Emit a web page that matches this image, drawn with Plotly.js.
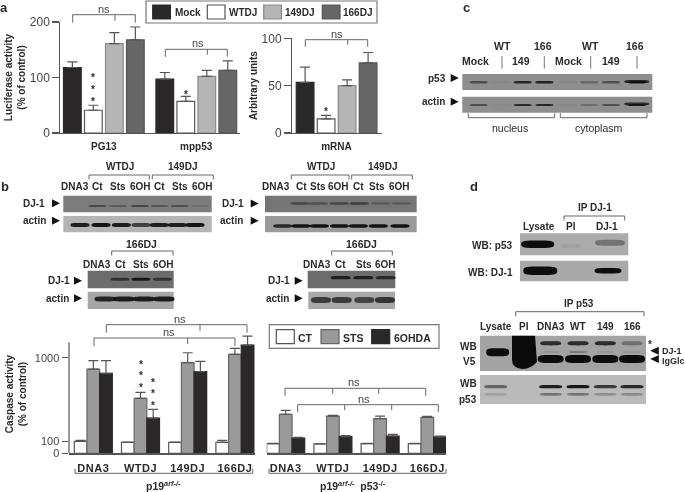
<!DOCTYPE html>
<html><head><meta charset="utf-8">
<script src="https://cdn.plot.ly/plotly-3.0.1.min.js"></script>
<style>html,body{margin:0;padding:0;background:#fff}#g{width:685px;height:492px}</style>
</head><body><div id="g"></div>
<script>
// ---------- Panel a: bar data (value, upward error) ----------
const categoriesLuc = ['PG13','mpp53'];
const lucMock = [118,97],  lucMockErr = [10,12];
const lucWT   = [41,57],   lucWTErr   = [9,9];
const luc149  = [161,102], luc149Err  = [20,11];
const luc166  = [168,113], luc166Err  = [23,17];
const categoriesMrna = ['mRNA'];
const mrnaMock = [53.5], mrnaMockErr = [16];
const mrnaWT   = [15],   mrnaWTErr   = [3.7];
const mrna149  = [50],   mrna149Err  = [6];
const mrna166  = [74],   mrna166Err  = [11];
// ---------- Panel b: caspase data, read on the drawn scale of the axis ----------
const categoriesCasp = ['DNA3','WTDJ','149DJ','166DJ'];
const caspCT  = [125,115,115,115], caspCTErr  = [11,3,2,21];
const caspSTS = [881,575,948,1035],caspSTSErr = [88,63,104,63];
const casp6OH = [836,369,854,1132],casp6OHErr = [133,91,108,94];
const nullCT  = [101,98,101,101],  nullCTErr  = [3,2,4,3];
const nullSTS = [408,390,362,376], nullSTSErr = [41,7,28,11];
const null6OH = [160,174,181,171], null6OHErr = [7,11,18,10];
const caspTickText = ['0','100','1000'];
// ---------- Blot band strengths ----------
const cP53   = [.5,.03,.8,.85,.06,.28,.48,.88];
const cActin = [.5,.03,.78,.82,.06,.26,.48,.85];
const b1DJ   = [.45,.3,.5,.35,.4,.1];
const b1Act  = [.9,.95,.9,.7,.9,.9,.95];
const b2DJ   = [.45,.35,.45,.55,.25,.25];
const b2Act  = [.8,.95,.95,.95,.95,.95,.95];
const b3DJ   = [.6,.9,.6];
const b3Act  = [.85,.9,.9,.9];
const b4DJ   = [.8,.8,.7];
const b4Act  = [.7,.7,.65,.75];
const dP53   = [1,.06,.35];
const dDJ    = [1,.0,1];
const v5Up   = [.8,.8,.8,.35];
const v5Low  = [1,1,1,1];
const v5Mid  = [.12,.35,.1,.1];
const wbUp   = [.5,.9,.95,.75,.85];
const wbLow  = [.15,.4,.4,.25,.28];

const W=685,H=492;
const FONT='"Liberation Sans", Arial, sans-serif', INK='#2a2a2a', AX='#555';
const C={black:'#2b2829',white:'#ffffff',light:'#b5b5b5',dark:'#666666',mid:'#9a9a9a'};
const data=[],layout={width:W,height:H,margin:{l:0,r:0,t:0,b:0},autosize:false,showlegend:false,
  barmode:'overlay',paper_bgcolor:'#fff',plot_bgcolor:'rgba(0,0,0,0)',font:{family:FONT,color:INK},shapes:[],annotations:[]};
const px=x=>x/W, py=y=>1-y/H;

function panel(id,cats,series,g){
  const unit=(g.center2-g.center1);
  series.forEach((s,i)=>data.push({type:'bar',name:s.name,x:cats,y:s.y,xaxis:'x'+id,yaxis:'y'+id,
    width:g.barW/unit,offset:(g.firstOff+i*g.step)/unit,cliponaxis:false,
    marker:{color:s.color,line:{color:s.edge,width:1.2}},
    error_y:{type:'data',symmetric:false,array:s.err,arrayminus:s.err.map(()=>0),color:AX,thickness:1.2,width:5}}));
  const lo=(g.left-g.center1)/unit, hi=(g.right-g.center1)/unit;
  layout['xaxis'+id]={type:'category',domain:[px(g.left),px(g.right)],range:[lo,hi],anchor:'y'+id,
    showline:true,linecolor:AX,linewidth:1.2,ticks:'',showgrid:false,zeroline:false,fixedrange:true,
    ticklabelstandoff:g.standoff,tickfont:{size:g.labelSize,weight:'bold',color:INK}};
  const y={domain:[py(g.base),py(g.top)],range:[0,g.ymax],anchor:'x'+id,showgrid:false,zeroline:false,fixedrange:true};
  if(g.hideY){y.visible=false}else{Object.assign(y,{showline:!g.ownLine,linecolor:AX,linewidth:1.2,ticks:'outside',ticklen:6.5,tickwidth:1.2,tickcolor:AX,
    tickvals:g.tickvals,ticktext:g.ticktext,tickfont:{size:g.tickSize||12,color:'#444'},
    title:{text:g.title,font:{size:10,weight:'bold',color:INK},standoff:g.standoffT}});}
  layout['yaxis'+id]=y;
}
const S=(name,y,err,color,edge)=>({name,y,err,color,edge});
const aGeo={center1:103.75,center2:196.2,barW:17.7,firstOff:-40.25,step:21,standoff:4,labelSize:10};
panel('',categoriesLuc,[S('Mock',lucMock,lucMockErr,C.black,C.black),S('WTDJ',lucWT,lucWTErr,C.white,AX),S('149DJ',luc149,luc149Err,C.light,'#8a8a8a'),S('166DJ',luc166,luc166Err,C.dark,'#555')],
  {...aGeo,left:60,right:240,base:133,top:22,ymax:200,tickvals:[0,100,200],ticktext:['0','100','200'],title:'Luciferase activity<br>(% of control)',standoffT:2});
panel('2',categoriesMrna,[S('Mock',mrnaMock,mrnaMockErr,C.black,C.black),S('WTDJ',mrnaWT,mrnaWTErr,C.white,AX),S('149DJ',mrna149,mrna149Err,C.light,'#8a8a8a'),S('166DJ',mrna166,mrna166Err,C.dark,'#555')],
  {center1:336.5,center2:428.95,barW:17.7,firstOff:-40.25,step:21,standoff:4,labelSize:10,left:291.7,right:382,base:133,top:38.3,ymax:100,tickvals:[0,50,100],ticktext:['0','50','100'],title:'Arbitrary units',standoffT:2});
const cGeo={barW:12.67,firstOff:-19,step:12.67,standoff:4,labelSize:11};
// the y range runs a little above the visible axis so the top error bar is not cut off
panel('3',categoriesCasp,[S('CT',caspCT,caspCTErr,C.white,AX),S('STS',caspSTS,caspSTSErr,C.mid,'#666'),S('6OHDA',casp6OH,casp6OHErr,C.black,C.black)],
  {...cGeo,center1:93.3,center2:140.5,left:69,right:255,base:453.3,top:334.8,ymax:1240,tickvals:[0,125,1000],ticktext:caspTickText,tickSize:11,ownLine:true,title:'Caspase activity<br>(% of control)',standoffT:6});
panel('4',categoriesCasp,[S('CT',nullCT,nullCTErr,C.white,AX),S('STS',nullSTS,nullSTSErr,C.mid,'#666'),S('6OHDA',null6OH,null6OHErr,C.black,C.black)],
  {...cGeo,center1:285.7,center2:332.9,left:266.7,right:446,base:453.3,top:334.8,ymax:1240,hideY:true});

// ---------- drawing helpers (page pixels -> paper) ----------
const shape=o=>layout.shapes.push(Object.assign({xref:'paper',yref:'paper',layer:'above'},o));
function rect(x0,y0,x1,y1,fill,edge,lw){shape({type:'rect',x0:px(x0),x1:px(x1),y0:py(y1),y1:py(y0),fillcolor:fill,line:{color:edge||fill,width:edge?(lw||1.2):0}});}
function seg(x0,y0,x1,y1,c,lw){shape({type:'line',x0:px(x0),x1:px(x1),y0:py(y0),y1:py(y1),line:{color:c||'#666',width:lw||1}});}
function tri(x,y,w,h,dir){const a=dir>0?x:x+w,b=dir>0?x+w:x;
  shape({type:'path',path:`M ${px(a)} ${py(y-h/2)} L ${px(b)} ${py(y)} L ${px(a)} ${py(y+h/2)} Z`,fillcolor:'#111',line:{width:0}});}
function band(cx,cy,w,t,o){const l=px(cx-w/2),r=px(cx+w/2),m=px(cx),e=w*0.12/W;
  const u=py(cy-t/2),d=py(cy+t/2),c=py(cy);
  shape({type:'path',path:`M ${l} ${c} C ${l} ${u} ${l+e} ${u} ${m} ${u} C ${r-e} ${u} ${r} ${u} ${r} ${c} C ${r} ${d} ${r-e} ${d} ${m} ${d} C ${l+e} ${d} ${l} ${d} ${l} ${c} Z`,
    fillcolor:'#0d0d0d',opacity:o,line:{width:0}});}
function bands(lanes,cy,w,t,vals){lanes.forEach((x,i)=>{if(vals[i]>0)band(x,cy,w,t,vals[i]);});}
function txt(t,x,y,o){o=o||{};layout.annotations.push({text:t,x:px(x),y:py(y),xref:'paper',yref:'paper',showarrow:false,
  xanchor:o.a||'center',yanchor:'middle',textangle:o.rot||0,borderpad:0,
  font:{family:FONT,size:o.s||10,weight:o.n?'normal':'bold',color:o.c||INK}});}
function ns(x,y,x0,x1,mids,drop){
  seg(x0,y,x1,y);seg(x0,y,x0,y+drop);seg(x1,y,x1,y+drop);mids.forEach(m=>seg(m,y,m,y+drop-2));
  txt('ns',x,y-6,{n:1,s:11,c:'#444'});}
function bracketDown(x0,x1,y){seg(x0,y,x1,y);seg(x0,y,x0,y+4.5);seg(x1,y,x1,y+4.5);}
function bracketUp(x0,x1,y){seg(x0,y,x1,y);seg(x0,y,x0,y-4.5);seg(x1,y,x1,y-4.5);}
function stars(x,ys){ys.forEach(y=>txt('*',x,y+1.5,{s:10}));}
function tag(t,cx,ax,y){txt(t,cx,y);tri(ax,y,8,8,1);}

seg(69,342.3,69,453.3,AX,1.2);

txt('a',4,8,{s:13});txt('b',5,186,{s:13});txt('c',466,8,{s:13});txt('d',474,186,{s:13});

// ---------- panel a annotations ----------
rect(146,1,377,23,'#fff','#777',1.2);
[[152.7,C.black,C.black,'Mock',174],[207.3,C.white,'#555','WTDJ',228.3],[263.7,C.light,'#8a8a8a','149DJ',284],[322.3,C.dark,'#555','166DJ',342.3]]
 .forEach(l=>{rect(l[0],5,l[0]+17.7,19,l[1],l[2]);txt(l[3],l[4],12,{a:'left',s:10});});
ns(104,14.7,72.7,135.3,[115],8); ns(198,49.3,165.3,227.3,[207.3],7.5); ns(337.3,39.7,305.3,367.7,[347.7],7);
stars(92.7,[76,88,100]);stars(185.7,[92.7]);stars(326,[110.3]);

// ---------- panel c ----------
[['WT',502.3],['166',543],['WT',590],['166',635.3]].forEach(l=>txt(l[0],l[1],46,{s:10.5}));
[['Mock',475.7],['149',521],['Mock',568.3],['149',611]].forEach(l=>txt(l[0],l[1],61.3,{s:10.5}));
[502,544.3,590.7,637].forEach(x=>seg(x,56,x,68.7,'#777'));
const cLanes=[116,185,248,313,385,448,513,590].map(v=>440+v/3);
rect(462.3,74,652.3,90,'#8e8e8e');rect(462.3,96.7,652.3,112.7,'#8e8e8e');
bands(cLanes,82.3,18,2.6,cP53);bands(cLanes,105,18,2.2,cActin);
band(cLanes[7],81.5,25,3.2,.8);band(cLanes[7],104,25,2.8,.75);
tag('p53',436.7,450.7,78);tag('actin',433,450.7,101.7);
bracketUp(468.3,554.7,117.7);bracketUp(560.3,647,117.7);
txt('nucleus',509.7,128,{n:1,s:10.5});txt('cytoplasm',599.3,128,{n:1,s:10.5});

// ---------- panel b blots ----------
const Z=(v,o)=>o+v/3;
txt('WTDJ',120,167);txt('149DJ',182.3,167);bracketDown(89,149.3,175);bracketDown(152.3,213.3,175);
[['DNA3',75],['Ct',97.3],['Sts',118],['6OH',140.7],['Ct',159.3],['Sts',179.7],['6OH',202]].forEach(l=>txt(l[0],l[1],186.7));
rect(63.3,195.7,211.7,212.3,'#7c7c7c');rect(63.3,216,211.7,232.3,'#b4b4b4');
bands([292,354,420,479,539,600].map(v=>Z(v,0)),206,18,2.2,b1DJ);
bands([240,303,364,423,478,532,585].map(v=>Z(v,0)),225,19,4,b1Act);
tag('DJ-1',34.3,52,203.3);tag('actin',34,52,220.7);

txt('WTDJ',320.7,167);txt('149DJ',382.7,167);bracketDown(291.3,349,175);bracketDown(351.7,412.3,175);
[['DNA3',276.3],['Ct',301],['Sts',318],['6OH',338.7],['Ct',358.3],['Sts',377.3],['6OH',400]].forEach(l=>txt(l[0],l[1],186.7));
rect(265,195.7,416.7,212.3,'#757575');rect(265,216,416.7,232.3,'#9a9a9a');
bands([240,295,358,418,482,543].map(v=>Z(v,220)),203.5,19,2.4,b2DJ);
bands([188,243,298,358,415,475,540].map(v=>Z(v,220)),226,19,3.6,b2Act);
tag('DJ-1',233.3,250.7,203.6);tag('actin',231.7,250.7,220.7);

txt('166DJ',141.3,244,{s:10.5});bracketDown(111.7,173,251);
[['DNA3',97.3],['Ct',120],['Sts',141],['6OH',163.7]].forEach(l=>txt(l[0],l[1],264));
rect(87.7,270.7,173.7,288.3,'#6c6c6c');rect(87.7,291.7,173.7,309,'#a6a6a6');
bands([360,423,487].map(v=>Z(v,0)),279.3,19,3,b3DJ);
bands([315,372,432,492].map(v=>Z(v,0)),299,21,5,b3Act);
tag('DJ-1',59,74,280.7);tag('actin',57,74,298.3);

txt('166DJ',361.3,244,{s:10.5});bracketDown(331.7,392.3,251);
[['DNA3',317],['Ct',340.7],['Sts',363.7],['6OH',385.7]].forEach(l=>txt(l[0],l[1],264));
rect(307.7,270.7,395.3,288.3,'#6c6c6c');rect(308.3,291.7,395,309,'#a8a8a8');
bands([362,430,497].map(v=>Z(v,220)),277.7,20,3.2,b4DJ);
bands([303,365,433,495].map(v=>Z(v,220)),300,20,6,b4Act);
tag('DJ-1',279,294.7,280.7);tag('actin',277.3,294.7,298.3);

// ---------- panel b caspase annotations ----------
ns(180.3,324.7,106.3,247,[200],8); ns(169.3,338,94,235,[187.7],8);
stars(141,[362.7,374.3,386.3]);stars(153,[380.7,392.3,404.3]);
bracketUp(75,252.7,473.3);txt('p19<sup><i>arf-/-</i></sup>',163,485.5,{s:10.5});
rect(269.3,324.7,439,348.3,'#fff','#777',1.2);
[[276.3,C.white,'#555','CT',296.7],[321,C.mid,'#666','STS',341.7],[371.7,C.black,C.black,'6OHDA',392.7]]
 .forEach(l=>{rect(l[0],329.7,l[0]+18,343.7,l[1],l[2]);txt(l[3],l[4],338,{a:'left',s:10.5});});
ns(354.3,388.3,285,425.7,[332.7,378.7],7.5); ns(364.3,404.7,297.7,438.3,[344.7,391.7],7.5);
bracketUp(269,446,473.3);txt('p19<sup><i>arf-/-</i></sup>  p53<sup>-/-</sup>',353,485.5,{s:10.5});

// ---------- panel d ----------
txt('IP DJ-1',594.7,207.3);bracketDown(564,624.7,216);
[['Lysate',538.7],['PI',571.3],['DJ-1',607.3]].forEach(l=>txt(l[0],l[1],226));
rect(520,233.3,628.3,255.3,'#ababab');rect(520,260.7,628.3,281.3,'#a9a9a9');
const dL=[537.7,571,610];
band(dL[0],244.3,33,7.5,dP53[0]);band(dL[1],246,20,4,dP53[1]);band(dL[2],242.7,30,6,dP53[2]);
band(540.3,270.7,34,8.5,dDJ[0]);band(608,270.7,27,5.5,dDJ[2]);
txt('WB: p53',492.3,245.3);txt('WB: DJ-1',490,272.3);

txt('IP p53',579,303.7);bracketDown(515.7,644,311.7);
[['Lysate',495.7],['PI',523.7],['DNA3',550.7],['WT',578],['149',605.3],['166',632]].forEach(l=>txt(l[0],l[1],326));
rect(480,335.7,646,371,'#a3a3a3');rect(480,375,646,404,'#bababa');
const vL=[257,339,421,501].map(v=>Z(v,465));
bands(vL,343.3,21,4.2,v5Up);bands(vL,352,18,1.6,v5Mid);bands(vL,359,26,8,v5Low);
band(497.7,352.3,23,8,1);
shape({type:'path',path:`M ${px(512)} ${py(335.7)} L ${px(535)} ${py(335.7)} L ${px(537)} ${py(362)} Q ${px(530)} ${py(369.5)} ${px(522)} ${py(369)} Q ${px(512)} ${py(368)} ${px(512)} ${py(360)} Z`,fillcolor:'#0b0b0b',line:{width:0}});
const wL=[92,257,339,421,501].map(v=>Z(v,465));
bands(wL,386.7,23,3.2,wbUp);bands(wL,394.3,22,2.8,wbLow);
txt('WB',468,346.7);txt('V5',469,361.7);txt('WB',468,383.3);txt('p53',468,399.3);
txt('*',650,344,{s:10});
tri(650.3,350.7,8.5,8,-1);tri(650.3,359,8.5,8,-1);
txt('DJ-1',660.5,350.7,{a:'left',s:9});txt('IgGlc',660.5,361,{a:'left',s:9});

Plotly.newPlot('g',data,layout,{displayModeBar:false,staticPlot:true}).then(gd=>{
  gd.querySelectorAll('.layer-above .shapelayer').forEach(e=>{e.style.filter='blur(0.5px)';});
  gd.querySelectorAll('.x3tick text, .x4tick text').forEach(e=>{e.style.letterSpacing='0.5px';});
  gd.style.filter='blur(0.35px)';
});
</script></body></html>
